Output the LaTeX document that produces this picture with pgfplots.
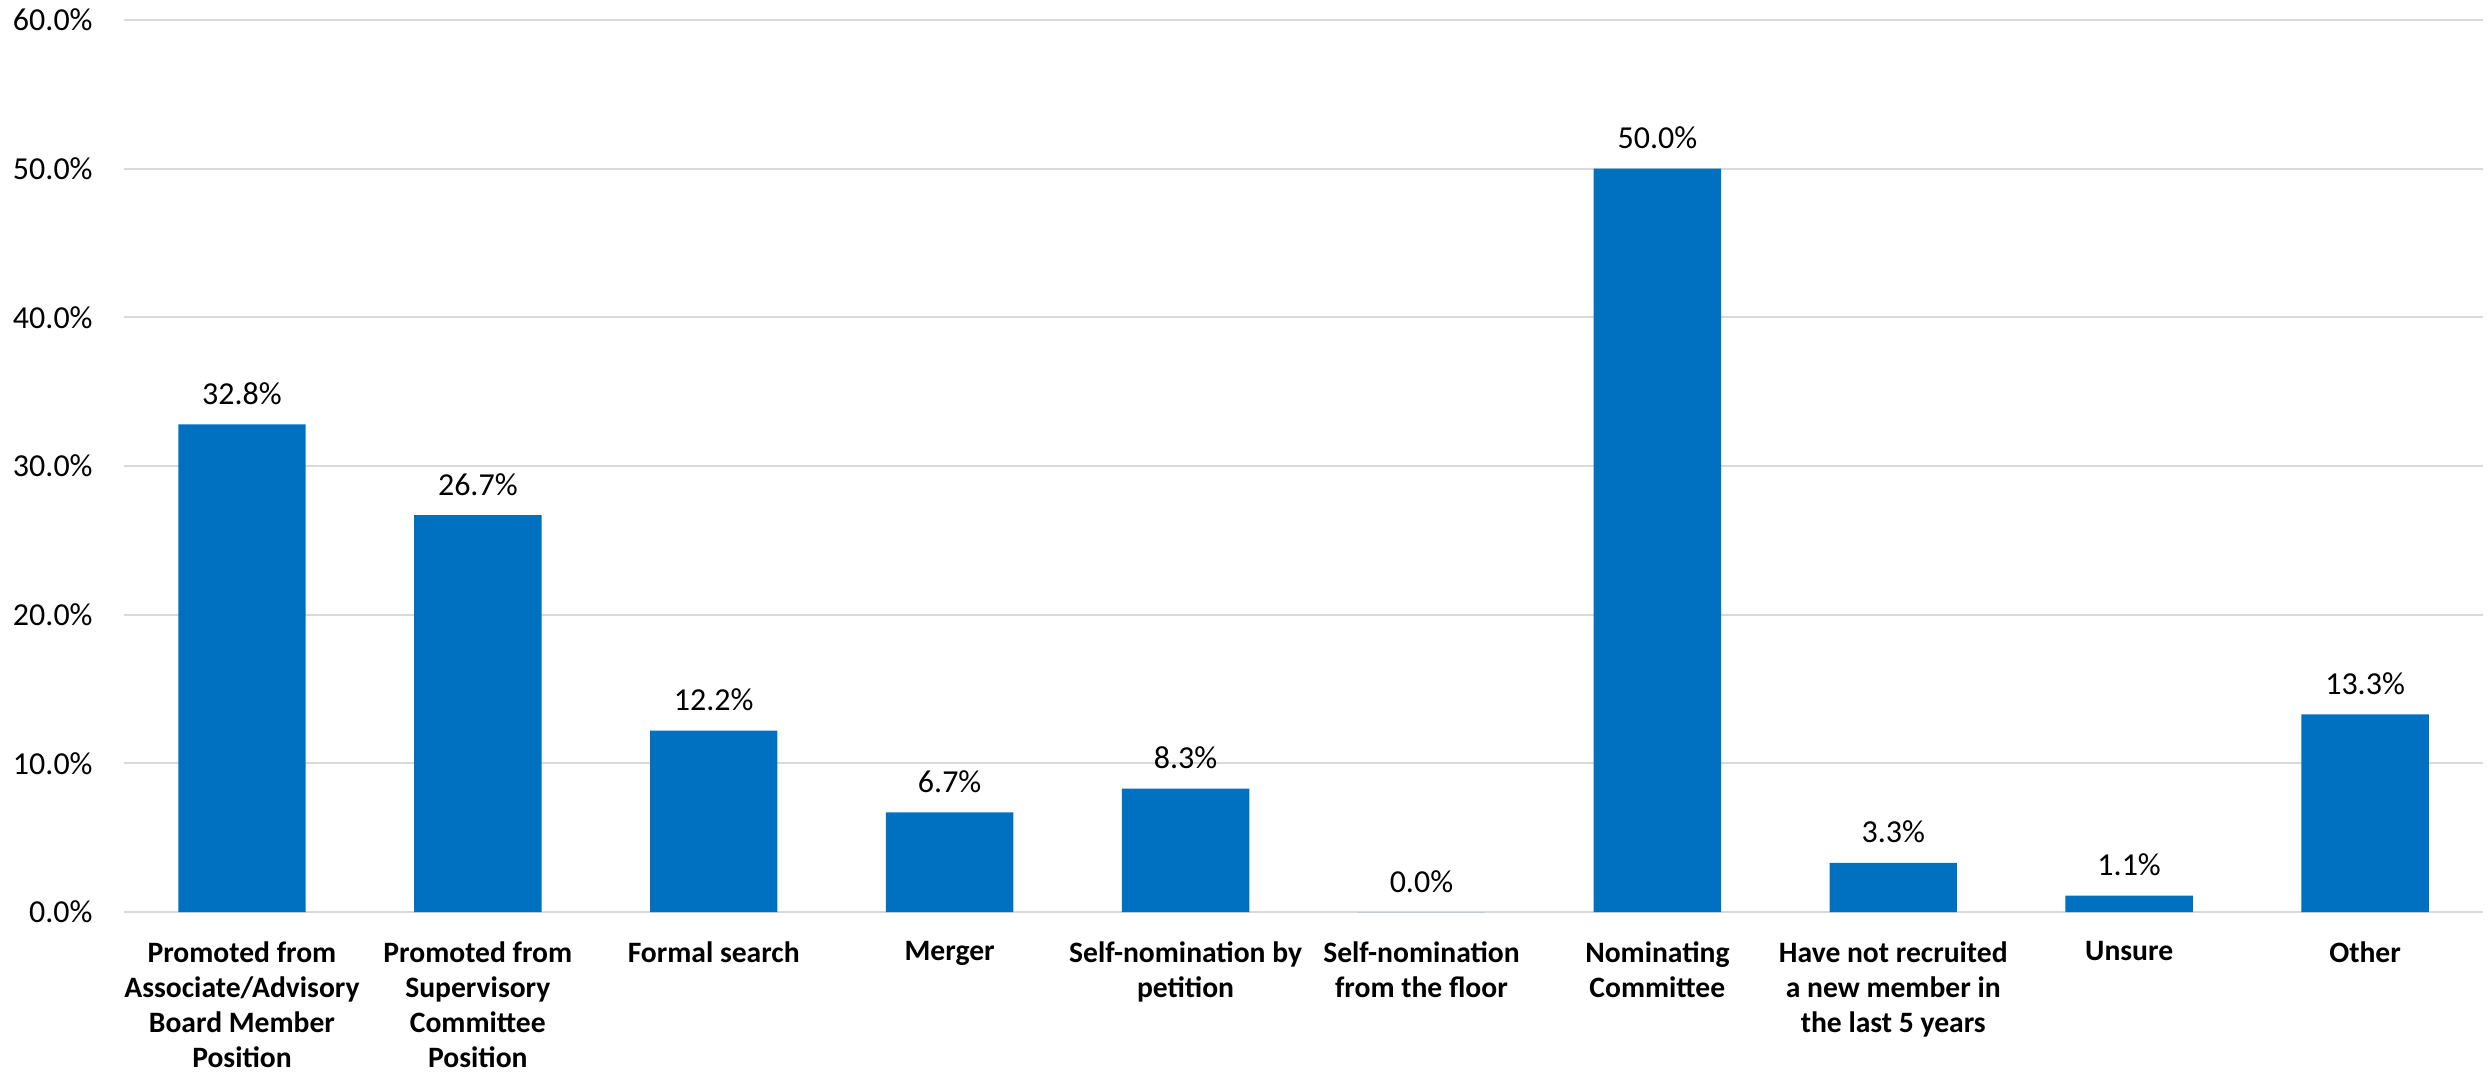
\documentclass[border=0pt]{standalone}
\usepackage{pgfplots}
\pgfplotsset{compat=1.18}
\usepackage{fontspec}
\setmainfont{Carlito}
\definecolor{barblue}{HTML}{0070C0}
\definecolor{gridgrey}{HTML}{D9D9D9}
\begin{document}
\begin{tikzpicture}
\path[use as bounding box] (-62pt,-79.5pt) rectangle (1182.5pt,456pt);
\begin{axis}[
  at={(0,0)}, anchor=south west,
  scale only axis,
  width=1179.5pt, height=446pt,
  xmin=-0.5, xmax=9.5, ymin=0, ymax=60,
  axis line style={draw=none},
  major tick length=0pt,
  ytick={0,10,20,30,40,50,60},
  yticklabels={0.0\%,10.0\%,20.0\%,30.0\%,40.0\%,50.0\%,60.0\%},
  ymajorgrids,
  grid style={gridgrey, line width=1pt},
  yticklabel style={font=\fontsize{16}{19}\selectfont, anchor=east, inner sep=0pt, xshift=-15.5pt},
  xtick={0,1,2,3,4,5,6,7,8,9},
  xticklabels={
    {Promoted from\\Associate/Advisory\\Board Member\\Position},
    {Promoted from\\Supervisory\\Committee\\Position},
    {Formal search},
    {Merger},
    {Self-nomination by\\petition},
    {Self-nomination\\from the floor},
    {Nominating\\Committee},
    {Have not recruited\\a new member in\\the last 5 years},
    {Unsure},
    {Other}},
  xticklabel style={font=\fontsize{14.8}{17.6}\selectfont\bfseries, align=center, anchor=north, inner sep=0pt, yshift=-14.5pt},
  nodes near coords={\pgfmathprintnumber[assume math mode=true,fixed,fixed zerofill,precision=1]{\pgfplotspointmeta}\%},
  every node near coord/.append style={font=\fontsize{16}{19}\selectfont, anchor=base, inner sep=0pt, yshift=10pt, text=black},
  clip=false,
]
\addplot[ybar, bar width=0.54, fill=barblue, draw=none] coordinates {
  (0,32.8) (1,26.7) (2,12.2) (3,6.7) (4,8.3) (5,0.0) (6,50.0) (7,3.3) (8,1.1) (9,13.3)
};
\end{axis}
\end{tikzpicture}
\end{document}
